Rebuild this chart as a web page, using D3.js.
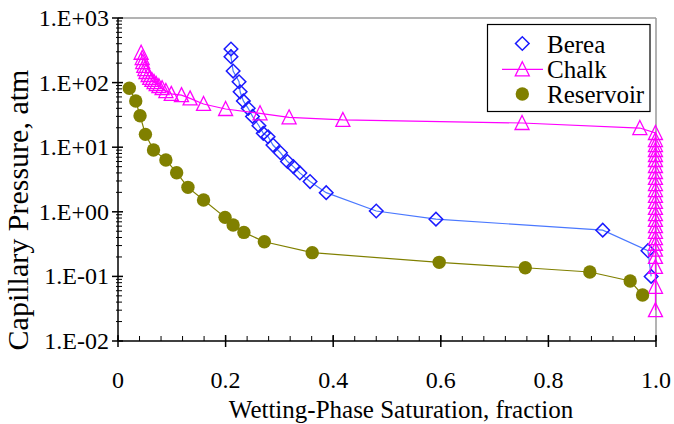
<!DOCTYPE html>
<html>
<head>
<meta charset="utf-8">
<script src="https://cdn.jsdelivr.net/npm/d3@7"></script>
<style>
  html, body { margin: 0; padding: 0; background: #fff; }
  svg { display: block; }
  svg text { font-family: "Liberation Serif", Tinos, "Times New Roman", Times, "DejaVu Serif", serif; }
</style>
</head>
<body>
<svg id="chart" width="674" height="424"></svg>
<script>
// ---- data ----
const xTickValues = [0, 0.2, 0.4, 0.6, 0.8, 1.0];
const xTickLabels = ["0", "0.2", "0.4", "0.6", "0.8", "1.0"];
const yTickValues = [1e3, 1e2, 1e1, 1e0, 1e-1, 1e-2];
const yTickLabels = ["1.E+03", "1.E+02", "1.E+01", "1.E+00", "1.E-01", "1.E-02"];
const seriesNames = ["Berea", "Chalk", "Reservoir"];

const bereaSw = [0.210, 0.210, 0.214, 0.225, 0.227, 0.233, 0.242, 0.250, 0.262, 0.270, 0.279, 0.288,
                 0.302, 0.315, 0.326, 0.338, 0.357, 0.387, 0.480, 0.591, 0.901, 0.985, 0.991];
const bereaPc = [331, 252, 151, 103, 72, 52, 40, 30, 21.5, 16.4, 14.5, 10.8,
                 8.2, 6.0, 5.0, 4.0, 2.94, 1.98, 1.03, 0.77, 0.52, 0.25, 0.10];

const chalkSw = [0.043, 0.045, 0.046, 0.048, 0.050, 0.052, 0.056, 0.059, 0.063, 0.067, 0.071, 0.076,
                 0.082, 0.089, 0.099, 0.118, 0.134, 0.159, 0.200, 0.264, 0.318, 0.418, 0.751, 0.970,
                 0.999, 0.999, 0.999, 0.999, 0.999, 0.999, 0.999, 0.999, 0.999, 0.999, 0.999, 0.999,
                 0.999, 0.999, 0.999, 0.999, 0.999, 0.999, 0.999, 0.999, 0.999, 0.999, 0.999, 0.999, 0.999];
const chalkPc = [290, 240, 208, 181, 162, 146, 131, 118, 110, 102, 95, 88,
                 82, 74, 67, 64, 57, 46.7, 39, 33.5, 29.0, 26.4, 23.7, 19.8,
                 16.6, 12.9, 10.8, 9.05, 7.57, 6.34, 5.12, 4.13, 3.34, 2.69, 2.17, 1.76,
                 1.42, 1.15, 0.92, 0.75, 0.60, 0.49, 0.39, 0.32, 0.26, 0.20, 0.14, 0.069, 0.030];

const resSw = [0.021, 0.033, 0.041, 0.051, 0.066, 0.089, 0.109, 0.130, 0.159, 0.199, 0.214, 0.234,
               0.272, 0.361, 0.597, 0.757, 0.877, 0.952, 0.975];
const resPc = [81.7, 51.9, 30.7, 15.8, 9.06, 6.34, 4.03, 2.39, 1.52, 0.82, 0.625, 0.48,
               0.344, 0.233, 0.165, 0.136, 0.117, 0.085, 0.0515];

// ---- layout ----
const svg = d3.select("#chart");
const L = 118, R = 656, T = 18, B = 341;
const x = d3.scaleLinear().domain([0, 1]).range([L, R]);
const y = d3.scaleLog().domain([1e-2, 1e3]).range([B, T]);

// frame (gray top/right)
svg.append("line").attr("x1", L).attr("x2", R).attr("y1", T).attr("y2", T)
  .attr("stroke", "#9a9a9a").attr("stroke-width", 1.5);
svg.append("line").attr("x1", R).attr("x2", R).attr("y1", T).attr("y2", B)
  .attr("stroke", "#9a9a9a").attr("stroke-width", 1.5);

// y axis
const yAxisG = svg.append("g");
yAxisG.append("line").attr("x1", L).attr("x2", L).attr("y1", T).attr("y2", B)
  .attr("stroke", "#000").attr("stroke-width", 1.5);
const yMinor = [];
for (let e = -2; e < 3; e++) for (let k = 2; k <= 9; k++) yMinor.push(k * Math.pow(10, e));
yAxisG.selectAll(".ymin").data(yMinor).enter().append("line")
  .attr("x1", L - 2).attr("x2", L + 4)
  .attr("y1", d => y(d)).attr("y2", d => y(d))
  .attr("stroke", "#000").attr("stroke-width", 1);
yAxisG.selectAll(".ymaj").data(yTickValues).enter().append("line")
  .attr("x1", L - 6).attr("x2", L + 5)
  .attr("y1", d => y(d)).attr("y2", d => y(d))
  .attr("stroke", "#000").attr("stroke-width", 1.5);
yAxisG.selectAll(".ylab").data(yTickValues).enter().append("text")
  .attr("x", L - 9).attr("y", d => y(d) + 8)
  .attr("text-anchor", "end").style("font-size", "24px")
  .text((d, i) => yTickLabels[i]);

// x axis
const xAxisG = svg.append("g");
xAxisG.append("line").attr("x1", L).attr("x2", R).attr("y1", B).attr("y2", B)
  .attr("stroke", "#000").attr("stroke-width", 1.5);
const xMinor = d3.range(0, 1.0001, 0.04);
xAxisG.selectAll(".xmin").data(xMinor).enter().append("line")
  .attr("x1", d => x(d)).attr("x2", d => x(d))
  .attr("y1", B).attr("y2", B - 5)
  .attr("stroke", "#000").attr("stroke-width", 1);
xAxisG.selectAll(".xmaj").data(xTickValues).enter().append("line")
  .attr("x1", d => x(d)).attr("x2", d => x(d))
  .attr("y1", B - 6).attr("y2", B + 6)
  .attr("stroke", "#000").attr("stroke-width", 1.5);
xAxisG.selectAll(".xlab").data(xTickValues).enter().append("text")
  .attr("x", d => x(d)).attr("y", B + 47)
  .attr("text-anchor", "middle").style("font-size", "24px")
  .text((d, i) => xTickLabels[i]);

// titles
svg.append("text").attr("x", 401).attr("y", 418)
  .attr("text-anchor", "middle").style("font-size", "25px")
  .text("Wetting-Phase Saturation, fraction");
svg.append("text").attr("transform", `translate(28, 210) rotate(-90)`)
  .attr("text-anchor", "middle").style("font-size", "30px")
  .text("Capillary Pressure, atm");

// series
const line = d3.line().x(d => x(d[0])).y(d => y(d[1]));
const berea = d3.zip(bereaSw, bereaPc);
const chalk = d3.zip(chalkSw, chalkPc);
const res = d3.zip(resSw, resPc);

const diamond = d3.symbol().type(d3.symbolSquare).size(92);
const tri = () => { const h = 13, w = 14; return `M0,${-h/2 - 1}L${w/2},${h/2}L${-w/2},${h/2}Z`; };

// Berea
svg.append("path").datum(berea).attr("d", line)
  .attr("fill", "none").attr("stroke", "#4a78ff").attr("stroke-width", 1.2);
svg.selectAll(".bm").data(berea).enter().append("path")
  .attr("d", diamond)
  .attr("transform", d => `translate(${x(d[0])},${y(d[1])}) rotate(45)`)
  .attr("fill", "none").attr("stroke", "#1a1aff").attr("stroke-width", 1.5);

// Chalk
svg.append("path").datum(chalk).attr("d", line)
  .attr("fill", "none").attr("stroke", "#ff00ff").attr("stroke-width", 1.2);
svg.selectAll(".cm").data(chalk).enter().append("path")
  .attr("d", tri)
  .attr("transform", d => `translate(${x(d[0])},${y(d[1])})`)
  .attr("fill", "none").attr("stroke", "#ff00ff").attr("stroke-width", 1.3);

// Reservoir
svg.append("path").datum(res).attr("d", line)
  .attr("fill", "none").attr("stroke", "#808000").attr("stroke-width", 1.2);
svg.selectAll(".rm").data(res).enter().append("circle")
  .attr("cx", d => x(d[0])).attr("cy", d => y(d[1])).attr("r", 6.7)
  .attr("fill", "#808000");

// legend
const lg = svg.append("g");
lg.append("rect").attr("x", 487.5).attr("y", 24.5).attr("width", 162.5).attr("height", 87)
  .attr("fill", "#fff").attr("stroke", "#000").attr("stroke-width", 1.2);
const rows = [43.5, 69.3, 94];
lg.append("path").attr("d", diamond)
  .attr("transform", `translate(522.3,${rows[0]}) rotate(45)`)
  .attr("fill", "none").attr("stroke", "#1a1aff").attr("stroke-width", 1.5);
lg.append("line").attr("x1", 502).attr("x2", 543).attr("y1", rows[1]).attr("y2", rows[1])
  .attr("stroke", "#ff00ff").attr("stroke-width", 1.2);
lg.append("path").attr("d", tri)
  .attr("transform", `translate(522.3,${rows[1]})`)
  .attr("fill", "none").attr("stroke", "#ff00ff").attr("stroke-width", 1.3);
lg.append("circle").attr("cx", 522.3).attr("cy", rows[2]).attr("r", 6.7).attr("fill", "#808000");
lg.selectAll(".lt").data(seriesNames).enter().append("text")
  .attr("x", 547).attr("y", (d, i) => rows[i] + 9)
  .style("font-size", "25px").text(d => d);
</script>
</body>
</html>
